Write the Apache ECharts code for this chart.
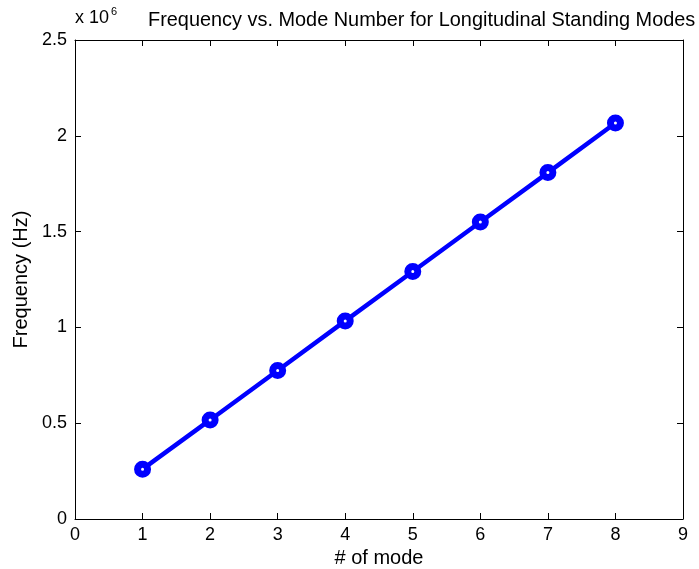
<!DOCTYPE html>
<html><head><meta charset="utf-8">
<script src="https://cdn.jsdelivr.net/npm/echarts@6/dist/echarts.min.js"></script>
<style>html,body{margin:0;padding:0;background:#fff}#c{width:699px;height:569px}</style>
</head><body><div id="c"></div>
<script>
const modes = [1, 2, 3, 4, 5, 6, 7, 8];
const freqs = [0.260e6, 0.517e6, 0.775e6, 1.034e6, 1.292e6, 1.550e6, 1.808e6, 2.067e6];
const titleText = 'Frequency vs. Mode Number for Longitudinal Standing Modes';
const xLabel = '# of mode';
const yLabel = 'Frequency (Hz)';

const FONT = 'Liberation Sans, Arial, Helvetica, sans-serif';
const chart = echarts.init(document.getElementById('c'), null, {renderer: 'canvas'});
const axisLine = {show: true, onZero: false, lineStyle: {color: '#000', width: 1}};
const tick = {show: true, inside: true, length: 6, lineStyle: {color: '#000', width: 1}};
const lbl = {color: '#000', fontSize: 18, fontFamily: FONT};
chart.setOption({
  animation: false,
  backgroundColor: '#fff',
  grid: {left: 75, right: 16, top: 40, bottom: 50, containLabel: false, outerBoundsMode: 'none'},
  title: {
    text: titleText, left: 143, top: 6,
    textStyle: {fontSize: 19.9, fontWeight: 'normal', color: '#000', fontFamily: FONT}
  },
  graphic: [
    {type: 'text', left: 75, top: 9, style: {text: 'x 10', fontSize: 18, fill: '#000', fontFamily: FONT}},
    {type: 'text', left: 111, top: 6, style: {text: '6', fontSize: 11, fill: '#000', fontFamily: FONT}}
  ],
  xAxis: [{
    type: 'value', min: 0, max: 9, interval: 1, position: 'bottom',
    name: xLabel, nameLocation: 'middle', nameGap: 28,
    nameTextStyle: {fontSize: 20, color: '#000', fontFamily: FONT},
    axisLine, axisTick: tick, splitLine: {show: false},
    axisLabel: Object.assign({margin: 7}, lbl)
  }, {
    type: 'value', min: 0, max: 9, interval: 1, position: 'top',
    axisLine, axisTick: tick, splitLine: {show: false}, axisLabel: {show: false}
  }],
  yAxis: [{
    type: 'value', min: 0, max: 2.5e6, interval: 0.5e6, position: 'left',
    name: yLabel, nameLocation: 'middle', nameGap: 43,
    nameTextStyle: {fontSize: 20, color: '#000', fontFamily: FONT},
    axisLine, axisTick: tick, splitLine: {show: false},
    axisLabel: Object.assign({margin: 8, formatter: v => String(v / 1e6)}, lbl)
  }, {
    type: 'value', min: 0, max: 2.5e6, interval: 0.5e6, position: 'right',
    axisLine, axisTick: tick, splitLine: {show: false}, axisLabel: {show: false}
  }],
  series: [{
    type: 'line',
    data: modes.map((m, i) => [m, freqs[i]]),
    lineStyle: {color: '#0000ff', width: 4.5},
    itemStyle: {color: '#fff', borderColor: '#0000ff', borderWidth: 7},
    symbol: 'circle', symbolSize: 10,
    showAllSymbol: true
  }]
});
</script></body></html>
